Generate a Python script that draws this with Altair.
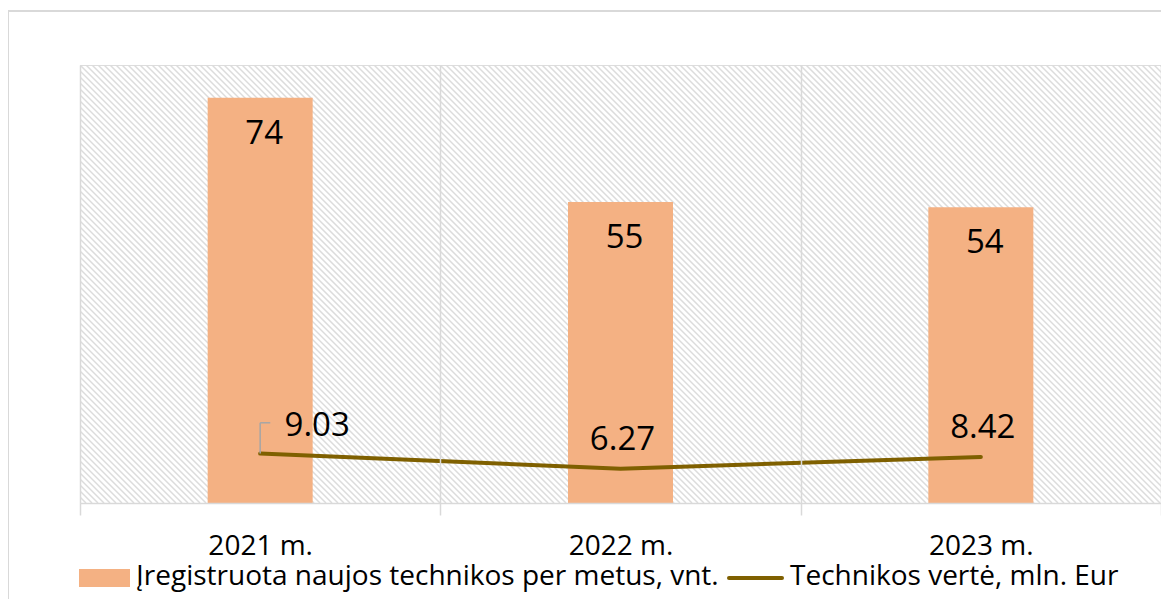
import altair as alt
import pandas as pd
import numpy as np

# ---- data ----
years = ["2021 m.", "2022 m.", "2023 m."]
registered = [74, 55, 54]
value_mln = [9.03, 6.27, 8.42]
value_text = ["9.03", "6.27", "8.42"]
series_names = ["Įregistruota naujos technikos per metus, vnt.", "Technikos vertė, mln. Eur"]

# ---- style ----
W, H = 1081, 438
FONT = "Open Sans"
BAR_COLOR = "#F4B183"
LINE_COLOR = "#7F6000"
GRID = "#d9d9d9"

df = pd.DataFrame({"year": years, "registered": registered,
                   "value": value_mln, "vtext": value_text})

xscale = alt.Scale(paddingInner=0, paddingOuter=0)
yscale = alt.Scale(domain=[0, 80], nice=False)

xenc = alt.X("year:N", sort=years, title=None, scale=xscale,
             axis=alt.Axis(tickBand="extent", grid=True, gridColor=GRID,
                           gridWidth=1.5, domainColor=GRID, domainWidth=1.5,
                           tickColor=GRID, tickWidth=1.5, tickSize=12,
                           labelFont=FONT, labelFontSize=28, labelColor="black",
                           labelPadding=17, labelAngle=0, zindex=1))
yenc = alt.Y("registered:Q", scale=yscale, axis=None)

# decorative hatch of the plot background
offs = np.arange(-H, W, 6)
hatch = pd.DataFrame({"hx": offs, "hx2": offs + H, "hy": H, "hy2": 0})
hatch_layer = alt.Chart(hatch).mark_rule(color="#dcdcdc", strokeWidth=1.5, clip=True).encode(
    x=alt.X("hx:Q", scale=alt.Scale(domain=[0, W], nice=False, zero=False), axis=None),
    x2="hx2:Q",
    y=alt.Y("hy:Q", scale=alt.Scale(domain=[0, H], nice=False, zero=False), axis=None),
    y2="hy2:Q",
)

base = alt.Chart(df)

bars = base.mark_bar(size=105, color=BAR_COLOR).encode(x=xenc, y=yenc)

bar_labels = base.mark_text(font=FONT, fontSize=33, color="black", baseline="middle",
                            dy=36, dx=4).encode(
    x=alt.X("year:N", sort=years), y=alt.Y("registered:Q"), text="registered:Q")

line = base.mark_line(color=LINE_COLOR, strokeWidth=4, strokeCap="round").encode(
    x=alt.X("year:N", sort=years), y=alt.Y("value:Q"))

leader_v = base.transform_filter(alt.datum.year == years[0]).mark_rule(
    color="#a6a6a6", strokeWidth=1.5).encode(
    x=alt.X("year:N", sort=years), y=alt.Y("value:Q"), y2=alt.Y2(datum=14.65))
leader_h = base.transform_filter(alt.datum.year == years[0]).mark_rule(
    color="#a6a6a6", strokeWidth=1.5).encode(
    x=alt.X("year:N", sort=years), x2=alt.X2("year:N", bandPosition=0.528),
    y=alt.Y(datum=14.65))

lab_first = base.transform_filter(alt.datum.year == years[0]).mark_text(
    font=FONT, fontSize=33, color="black", baseline="middle", dx=57, dy=-28).encode(
    x=alt.X("year:N", sort=years), y=alt.Y("value:Q"), text="vtext:N")
lab_rest = base.transform_filter(alt.datum.year != years[0]).mark_text(
    font=FONT, fontSize=33, color="black", baseline="middle", dx=2, dy=-29).encode(
    x=alt.X("year:N", sort=years), y=alt.Y("value:Q"), text="vtext:N")

# manual legend (bottom)
one = pd.DataFrame({"k": [0]})
leg = alt.Chart(one)
leg_rect = leg.mark_rect(color=BAR_COLOR).encode(
    x=alt.value(-1), x2=alt.value(50), y=alt.value(504), y2=alt.value(522))
leg_t1 = leg.mark_text(font=FONT, fontSize=28, align="left", baseline="middle",
                       color="black").encode(
    x=alt.value(56), y=alt.value(512), text=alt.value(series_names[0]))
leg_line = leg.mark_rule(color=LINE_COLOR, strokeWidth=4, strokeCap="round").encode(
    x=alt.value(649), x2=alt.value(702), y=alt.value(513))
leg_t2 = leg.mark_text(font=FONT, fontSize=28, align="left", baseline="middle",
                       color="black").encode(
    x=alt.value(710), y=alt.value(512), text=alt.value(series_names[1]))

# outer frame (top and left edges visible)
frame_top = leg.mark_rule(color=GRID, strokeWidth=2).encode(
    x=alt.value(-72), x2=alt.value(W + 2), y=alt.value(-54))
frame_left = leg.mark_rule(color=GRID, strokeWidth=2).encode(
    x=alt.value(-72), y=alt.value(-54), y2=alt.value(H + 100))

main = alt.layer(bars, line, leader_v, leader_h, bar_labels, lab_first, lab_rest)

chart = alt.layer(
    hatch_layer, main, leg_rect, leg_t1, leg_line, leg_t2, frame_top, frame_left
).resolve_scale(x="independent", y="independent").properties(
    width=W, height=H,
    autosize=alt.AutoSizeParams(type="none"),
    padding={"left": 72, "top": 57, "right": 0, "bottom": 96},
).configure_view(stroke=None).configure(background="white")

chart.save("out.html", embed_options={"renderer": "svg", "actions": False})
